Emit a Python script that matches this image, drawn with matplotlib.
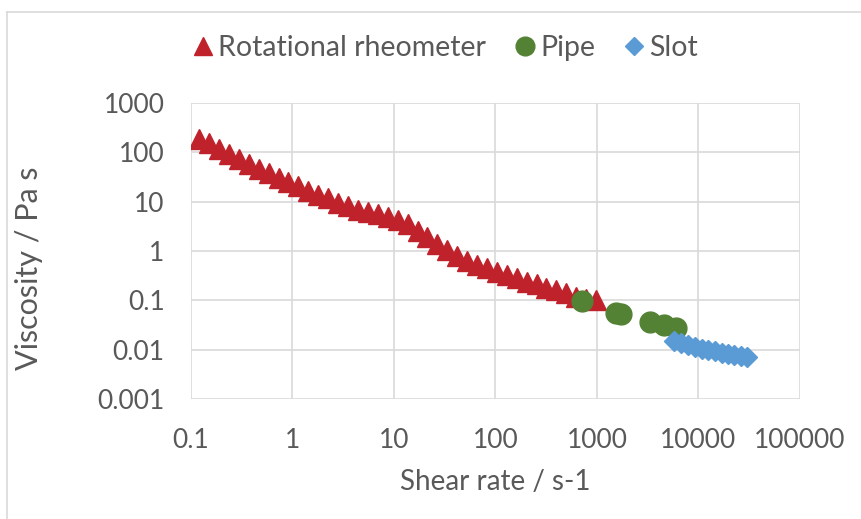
import matplotlib
matplotlib.use("Agg")
import matplotlib.pyplot as plt
from matplotlib.lines import Line2D

# ---- data ----
rot_rate = [0.120, 0.151, 0.189, 0.236, 0.296, 0.371, 0.465, 0.582, 0.728, 0.912,
            1.14, 1.43, 1.79, 2.24, 2.81, 3.52, 4.41, 5.53, 6.92, 8.67,
            10.9, 13.6, 17.1, 21.3, 26.7, 33.5, 42.0, 52.6, 65.8, 82.4,
            103, 129, 162, 203, 254, 318, 399, 500, 625, 783, 982]
rot_visc = [186, 155, 117, 93, 72, 58, 46, 38, 30, 25,
            21, 16.6, 13.5, 11.7, 9.3, 8.1, 6.8, 6.2, 5.6, 4.9,
            4.3, 3.6, 2.6, 1.95, 1.38, 1.07, 0.79, 0.63, 0.52, 0.45,
            0.37, 0.32, 0.28, 0.23, 0.21, 0.18, 0.16, 0.14, 0.117, 0.107, 0.100]

pipe_rate = [718, 1550, 1720, 3300, 4600, 6000]
pipe_visc = [0.096, 0.056, 0.054, 0.036, 0.031, 0.028]

slot_rate = [5800, 6700, 7800, 9200, 10800, 12500, 14500, 17000, 19500, 22500, 26000, 30000]
slot_visc = [0.0150, 0.0135, 0.0122, 0.0112, 0.0104, 0.0098, 0.0092, 0.0087, 0.0082, 0.0078, 0.0074, 0.0071]

x_ticks = [0.1, 1, 10, 100, 1000, 10000, 100000]
x_labels = ["0.1", "1", "10", "100", "1000", "10000", "100000"]
y_ticks = [0.001, 0.01, 0.1, 1, 10, 100, 1000]
y_labels = ["0.001", "0.01", "0.1", "1", "10", "100", "1000"]

series_names = ["Rotational rheometer", "Pipe", "Slot"]

# ---- style ----
plt.rcParams['font.family'] = ['Lato', 'DejaVu Sans']
TXT = '#595959'
GRID = '#D9D9D9'
RED = '#C0222B'
GREEN = '#548235'
BLUE = '#5B9BD5'

fig = plt.figure(figsize=(8.62, 5.19), dpi=100)
W, H = 862, 519
ax = fig.add_axes([191 / W, 1 - 399 / H, (800 - 191) / W, (399 - 103) / H])

ax.set_xscale('log')
ax.set_yscale('log')
ax.set_xlim(0.1, 100000)
ax.set_ylim(0.001, 1000)

ax.plot(rot_rate, rot_visc, linestyle='none', marker='^', ms=14, color=RED,
        mec=RED, label=series_names[0], zorder=3)
ax.plot(pipe_rate, pipe_visc, linestyle='none', marker='o', ms=15, color=GREEN,
        mec=GREEN, label=series_names[1], zorder=4)
ax.plot(slot_rate, slot_visc, linestyle='none', marker='D', ms=10, color=BLUE,
        mec=BLUE, label=series_names[2], zorder=5)

ax.set_xticks(x_ticks)
ax.set_xticklabels(x_labels)
ax.set_yticks(y_ticks)
ax.set_yticklabels(y_labels)
ax.minorticks_off()
ax.tick_params(axis='both', length=0, labelsize=19, labelcolor=TXT)
ax.tick_params(axis='x', pad=21)
ax.tick_params(axis='y', pad=19)
ax.grid(True, which='major', color=GRID, linewidth=1.2, zorder=0)
ax.set_axisbelow(True)
for s in ax.spines.values():
    s.set_visible(False)

ax.set_xlabel("Shear rate / s-1", fontsize=20, color=TXT, va='center')
ax.xaxis.set_label_coords(0.5, (399 - 482) / (399 - 103))
ax.set_ylabel("Viscosity / Pa s", fontsize=22, color=TXT, va='center')
ax.yaxis.set_label_coords((29 - 191) / (800 - 191), (399 - 268) / (399 - 103))

leg = fig.legend(loc='center', bbox_to_anchor=(444 / W, 1 - 48 / H), ncol=3,
                 frameon=False, fontsize=20.5, handletextpad=0.1, columnspacing=0.9,
                 markerscale=0.9, handlelength=0.9)
for t in leg.get_texts():
    t.set_color(TXT)

# chart area frame
fig.add_artist(Line2D([7 / W, 7 / W], [0, 1 - 12 / H], color=GRID, lw=1.2))
fig.add_artist(Line2D([7 / W, 1], [1 - 12 / H, 1 - 12 / H], color=GRID, lw=1.2))

fig.savefig("out.png", dpi=100)
